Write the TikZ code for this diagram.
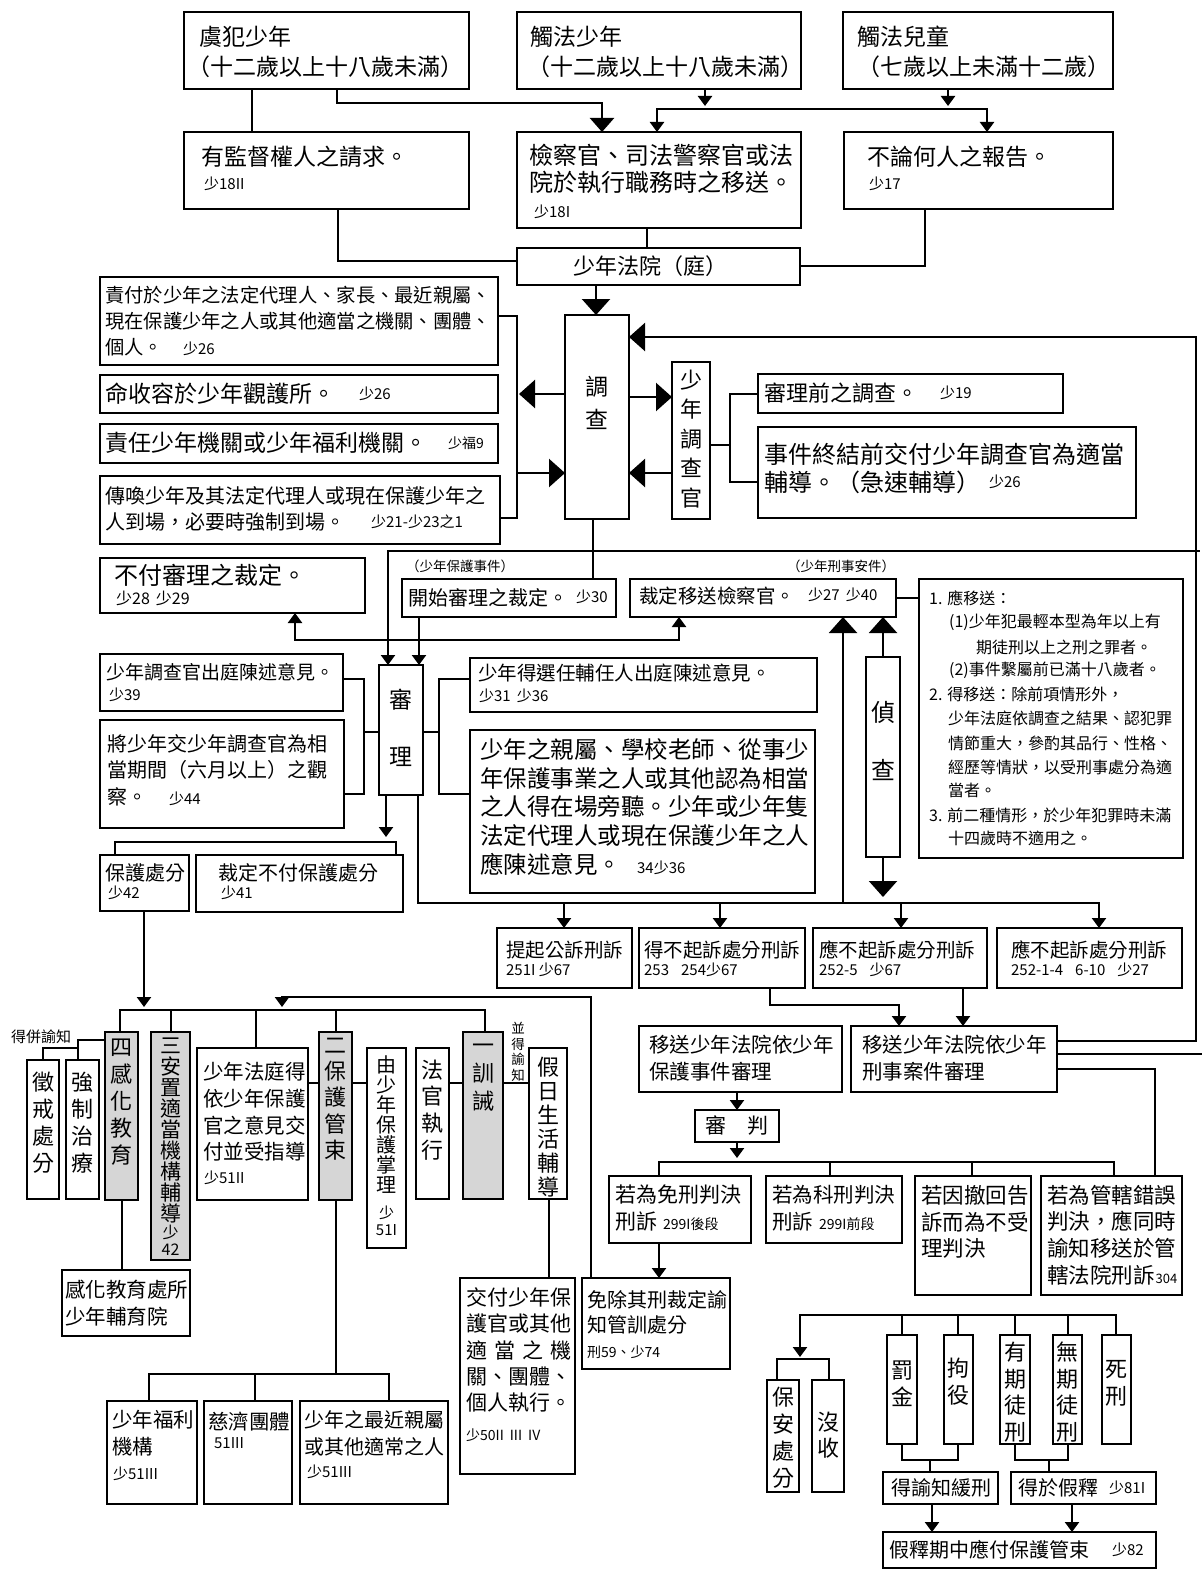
\documentclass[tikz,border=0pt]{standalone}
\usepackage{fontspec}
\setmainfont{Noto Sans CJK TC}
\usetikzlibrary{arrows.meta}
\newcounter{tn}
\newcommand\fz[2]{\fontsize{#1}{#2}\selectfont}
\newcommand\B[6][]{\node[box,#1,minimum width={#4-#2},minimum height={#5-#3}] (#6) at ({(#2+#4)/2},{(#3+#5)/2}) {};}
\newcommand\T[5][]{\stepcounter{tn}\node[txt,font=\fz{#2}{#2},#1] (t\arabic{tn}) at (#3,#4) {#5};}
\newcommand\M[6][]{\stepcounter{tn}\node[mtx,font=\fz{#2}{#3},#1] (t\arabic{tn}) at (#4,#5) {#6};}
\newcommand\V[6][]{\stepcounter{tn}\node[vtx,font=\fz{#2}{#3},#1] (t\arabic{tn}) at (#4,#5) {#6};}
\newcommand\sm[1]{{\fz{15}{15}#1}}
\begin{document}
\begin{tikzpicture}[x=1pt,y=-1pt,line width=2.3pt,line cap=rect,
  box/.style={draw,line width=2.5pt,inner sep=0pt,outer sep=0pt,fill=white},
  gbox/.style={box,fill=black!16},
  txt/.style={inner sep=0pt,anchor=west},
  mtx/.style={inner sep=0pt,anchor=west,align=left},
  vtx/.style={inner sep=0pt,align=center},
  aS/.style={-{Triangle[length=10pt,width=14pt]}},
  aSS/.style={{Triangle[length=10pt,width=14pt]}-{Triangle[length=10pt,width=14pt]}},
  aM/.style={-{Triangle[length=14pt,width=24pt]}},
  aB/.style={-{Triangle[length=16pt,width=28pt]}}]
\fill[white] (0,0) rectangle (1201,1570);
\useasboundingbox (0,0) rectangle (1201,1570);
% ---------- boxes
\B{184}{12}{469}{89}{yufan}
\B{517}{12}{801}{89}{chufa}
\B{843}{12}{1113}{89}{chuer}
\B{184}{132}{469}{209}{jiandu}
\B{517}{132}{801}{228}{jiancha}
\B{844}{132}{1113}{209}{bulun}
\B{517}{248}{800}{285}{fayuan}
\B{565}{315}{629}{519}{diaocha}
\B{100}{277}{498}{365}{zefu}
\B{100}{375}{498}{413}{shourong}
\B{100}{424}{498}{463}{zeren}
\B{100}{476}{500}{544}{chuanhuan}
\B{672}{362}{710}{519}{dcg}
\B{758}{374}{1063}{413}{qian}
\B{758}{427}{1136}{518}{shijian}
\B{100}{558}{365}{613}{bufu}
\B{402}{579}{616}{617}{kaishi}
\B{630}{579}{896}{617}{caiding}
\B{919}{579}{1183}{858}{note}
\B{100}{654}{343}{711}{dcgchu}
\B{100}{720}{344}{828}{jiang}
\B{379}{665}{423}{795}{shenli}
\B{470}{658}{817}{712}{xuanren}
\B{470}{730}{815}{893}{qinshu}
\B{866}{657}{900}{857}{zhencha}
\B{100}{855}{189}{911}{baohu}
\B{196}{855}{403}{912}{buyu}
\B{497}{928}{632}{988}{tiqi}
\B{639}{928}{805}{988}{debu}
\B{813}{928}{987}{988}{yingA}
\B{997}{928}{1182}{988}{yingB}
\B{639}{1026}{842}{1092}{ysbh}
\B{851}{1026}{1057}{1092}{ysxs}
\B{695}{1110}{779}{1142}{shenpan}
\B{609}{1176}{751}{1243}{mianxing}
\B{766}{1176}{902}{1243}{kexing}
\B{915}{1176}{1031}{1295}{chehui}
\B{1041}{1176}{1182}{1295}{guanxia}
\B{27}{1060}{59}{1199}{chengjie}
\B{66}{1060}{99}{1199}{qiangzhi}
\B[gbox]{105}{1032}{138}{1200}{ganhua}
\B[gbox]{151}{1032}{190}{1260}{anzhi}
\B{197}{1048}{308}{1200}{fating}
\B[gbox]{319}{1032}{352}{1200}{bhgs}
\B{367}{1048}{406}{1248}{youshao}
\B{416}{1048}{449}{1199}{faguan}
\B[gbox]{463}{1032}{503}{1199}{xunjie}
\B{529}{1048}{567}{1199}{jiari}
\B{62}{1270}{190}{1336}{ghcs}
\B{107}{1401}{197}{1504}{fuli}
\B{204}{1401}{292}{1504}{ciji}
\B{300}{1401}{448}{1504}{zuijin}
\B{460}{1278}{575}{1474}{jiaofu}
\B{582}{1278}{730}{1369}{mianchu}
\B{767}{1380}{799}{1492}{baoan}
\B{812}{1380}{844}{1492}{moshou}
\B{887}{1335}{917}{1444}{fajin}
\B{944}{1335}{973}{1444}{juyi}
\B{1000}{1335}{1030}{1444}{youqi}
\B{1053}{1335}{1082}{1444}{wuqi}
\B{1102}{1335}{1131}{1444}{sixing}
\B{883}{1472}{998}{1504}{huanxing}
\B{1011}{1472}{1156}{1504}{jiashi}
\B{883}{1532}{1156}{1568}{jsqz}
% ---------- connectors
\draw (yufan.south -| 252,0) -- (jiandu.north -| 252,0);
\draw[aM] (yufan.south -| 337,0) |- (602,103) -- (jiancha.north -| 602,0);
\draw[aS] (chufa.south -| 705,0) -- (705,106);
\draw[aS] (chuer.south -| 948,0) -- (948,106);
\draw[aS] (987,109) -- (657,109) -- (jiancha.north -| 657,0);
\draw[aS] (987,109) -- (bulun.north -| 987,0);
\draw (jiandu.south -| 338,0) |- (fayuan.west |- 0,261);
\draw (jiancha.south -| 647,0) -- (fayuan.north -| 647,0);
\draw (bulun.south -| 925,0) |- (fayuan.east |- 0,266);
\draw[aB] (fayuan.south -| 596,0) -- (diaocha.north -| 596,0);
\draw (zefu.east |- 0,316) -| (517,518) -- (chuanhuan.east |- 0,518);
\draw[aB] (diaocha.west |- 0,394) -- (519,394);
\draw[aB] (517,473) -- (diaocha.west |- 0,473);
\draw[aB] (diaocha.east |- 0,397) -- (dcg.west |- 0,397);
\draw[aB] (dcg.west |- 0,473) -- (diaocha.east |- 0,473);
\draw[aB] (ysxs.east |- 0,1041) -| (1196,337) -- (diaocha.east |- 0,337);
\draw (dcg.east |- 0,445) -- (730,445);
\draw (qian.west |- 0,394) -| (730,482) -- (shijian.west |- 0,482);
\draw (diaocha.south -| 593,0) -- (kaishi.north -| 593,0);
\draw[aS] (1199,551) -| (shenli.north -| 388,0);
\draw[aS] (kaishi.south -| 419,0) -- (shenli.north -| 419,0);
\draw[aSS] (bufu.south -| 295,0) -- (295,640) -- (679,640) -- (caiding.south -| 679,0);
\draw (dcgchu.east |- 0,679) -| (364,794) -- (jiang.east |- 0,794);
\draw (364,732) -- (shenli.west |- 0,732);
\draw (shenli.east |- 0,732) -- (439,732);
\draw (xuanren.west |- 0,679) -| (439,794) -- (qinshu.west |- 0,794);
\draw[aS] (shenli.south -| 386,0) -- (386,837);
\draw (baohu.north -| 115,0) |- (396,842) -- (buyu.north -| 396,0);
\draw (shenli.south -| 418,0) |- (1099,903);
\draw[aS] (564,903) -- (tiqi.north -| 564,0);
\draw[aS] (720,903) -- (debu.north -| 720,0);
\draw[aS] (901,903) -- (yingA.north -| 901,0);
\draw[aS] (1099,903) -- (yingB.north -| 1099,0);
\draw[aB] (843,903) -- (caiding.south -| 843,0);
\draw[aB] (zhencha.north -| 883,0) -- (caiding.south -| 883,0);
\draw[aB] (zhencha.south -| 883,0) -- (883,897);
\draw (caiding.east |- 0,598) -- (note.west |- 0,598);
\draw[aS] (debu.south -| 770,0) |- (899,1005) -- (ysxs.north -| 899,0);
\draw[aS] (yingA.south -| 963,0) -- (ysxs.north -| 963,0);
\draw (ysxs.east |- 0,1054) -- (1201,1054);
\draw (ysxs.east |- 0,1069) -| (guanxia.north -| 1155,0);
\draw[aS] (ysbh.south -| 737,0) -- (shenpan.north -| 737,0);
\draw[aS] (shenpan.south -| 737,0) -- (737,1158);
\draw (mianxing.north -| 659,0) -- (659,1162) -| (guanxia.north -| 1114,0);
\draw (kexing.north -| 830,0) -- (830,1162);
\draw (chehui.north -| 972,0) -- (972,1162);
\draw[aS] (mianxing.south -| 659,0) -- (mianchu.north -| 659,0);
\draw[aS] (mianchu.north -| 591,0) |- (282,997) -- (282,1007);
\draw[aS] (baohu.south -| 144,0) -- (144,1007);
\draw (ganhua.north -| 120,0) -- (120,1010) -| (xunjie.north -| 485,0);
\draw (anzhi.north -| 171,0) -- (171,1010);
\draw (fating.north -| 256,0) -- (256,1010);
\draw (bhgs.north -| 336,0) -- (336,1010);
\draw (ganhua.west |- 0,1040) -| (qiangzhi.north -| 78,0);
\draw (chengjie.north -| 43,0) |- (78,1048);
\draw (fating.east |- 0,1083) -- (bhgs.west |- 0,1083);
\draw (bhgs.east |- 0,1083) -- (youshao.west |- 0,1083);
\draw (faguan.east |- 0,1083) -- (xunjie.west |- 0,1083);
\draw (xunjie.east |- 0,1083) -- (jiari.west |- 0,1083);
\draw (ganhua.south -| 122,0) -- (ghcs.north -| 122,0);
\draw (bhgs.south -| 336,0) -- (336,1374);
\draw (fuli.north -| 149,0) -- (149,1374) -| (zuijin.north -| 389,0);
\draw (ciji.north -| 255,0) -- (255,1374);
\draw (jiari.south -| 549,0) -- (jiaofu.north -| 549,0);
\coordinate (fork) at (800,1315);
\draw (fork) -| (sixing.north -| 1116,0);
\draw[aS] (fork) -- (800,1357);
\draw (baoan.north -| 777,0) -- (777,1359) -| (moshou.north -| 829,0);
\draw (fajin.north -| 902,0) -- (902,1315);
\draw (juyi.north -| 958,0) -- (958,1315);
\draw (youqi.north -| 1015,0) -- (1015,1315);
\draw (wuqi.north -| 1068,0) -- (1068,1315);
\draw (fajin.south -| 902,0) -- (902,1460) -| (juyi.south -| 958,0);
\draw (930,1460) -- (huanxing.north -| 930,0);
\draw (youqi.south -| 1015,0) -- (1015,1460) -| (wuqi.south -| 1068,0);
\draw (1049,1460) -- (jiashi.north -| 1049,0);
\draw[aS] (huanxing.south -| 932,0) -- (jsqz.north -| 932,0);
\draw[aS] (jiashi.south -| 1072,0) -- (jsqz.north -| 1072,0);
% ---------- texts
\T{23}{198}{37}{虞犯少年}
\T{23}{186}{67}{（十二歲以上十八歲未滿）}
\T{23}{529}{37}{觸法少年}
\T{23}{526}{67}{（十二歲以上十八歲未滿）}
\T{23}{856}{37}{觸法兒童}
\T{23}{856}{67}{（七歲以上未滿十二歲）}
\T{23}{200}{157}{有監督權人之請求。}
\T{15}{203}{184}{少18II}
\M{24}{27.5}{528}{169}{檢察官、司法警察官或法\\院於執行職務時之移送。}
\T{15}{533}{212}{少18I}
\T{23}{866}{157}{不論何人之報告。}
\T{15}{868}{184}{少17}
\T[anchor=center]{22}{650}{266}{少年法院（庭）}
\M{19.3}{26}{104}{321}{責付於少年之法定代理人、家長、最近親屬、\\現在保護少年之人或其他適當之機關、團體、\\個人。\hspace{20pt}\sm{少26}}
\T{23}{104}{394}{命收容於少年觀護所。}
\T{15}{358}{394}{少26}
\T{23}{104}{443}{責任少年機關或少年福利機關。}
\T{14}{447}{443}{少福9}
\M{20}{26}{104}{509}{傳喚少年及其法定代理人或現在保護少年之\\人到場，必要時強制到場。}
\T{15}{370}{522}{少21-少23之1}
\V{23}{33}{597}{403}{調\\查}
\V{22}{29.5}{691}{439}{少\\年\\調\\查\\官}
\T{22}{763}{393}{審理前之調查。}
\T{15}{939}{393}{少19}
\M{24}{28}{763}{468}{事件終結前交付少年調查官為適當\\輔導。（急速輔導）}
\T{15}{988}{482}{少26}
\T{24}{113}{575}{不付審理之裁定。}
\T{16}{115}{598}{少28\hspace{6pt}少29}
\T{13.5}{405}{566}{（少年保護事件）}
\T{20}{407}{598}{開始審理之裁定。}
\T{15}{575}{597}{少30}
\T{13.5}{786}{566}{（少年刑事安件）}
\T{19.5}{638}{596}{裁定移送檢察官。}
\T{15}{807}{595}{少27\hspace{6pt}少40}
\T{16}{928}{598}{1. 應移送：}
\T{16}{948}{622}{(1)少年犯最輕本型為年以上有}
\T{16}{975}{647}{期徒刑以上之刑之罪者。}
\T{16}{948}{670}{(2)事件繫屬前已滿十八歲者。}
\T{16}{928}{694}{2. 得移送：除前項情形外，}
\T{16}{947}{718}{少年法庭依調查之結果、認犯罪}
\T{16}{947}{743}{情節重大，參酌其品行、性格、}
\T{16}{947}{767}{經歷等情狀，以受刑事處分為適}
\T{16}{947}{790}{當者。}
\T{16}{928}{815}{3. 前二種情形，於少年犯罪時未滿}
\T{16}{947}{838}{十四歲時不適用之。}
\T{19}{105}{672}{少年調查官出庭陳述意見。}
\T{15}{108}{695}{少39}
\M{20}{26.5}{106}{770}{將少年交少年調查官為相\\當期間（六月以上）之觀\\察。\hspace{22pt}\sm{少44}}
\V{23}{57}{401}{728}{審\\理}
\T{19.5}{477}{673}{少年得選任輔任人出庭陳述意見。}
\T{15}{478}{696}{少31\hspace{6pt}少36}
\M{23.5}{28.8}{479}{807}{少年之親屬、學校老師、從事少\\年保護事業之人或其他認為相當\\之人得在場旁聽。少年或少年隻\\法定代理人或現在保護少年之人\\應陳述意見。\hspace{16pt}\sm{34少36}}
\V{24}{58}{883}{741}{偵\\查}
\T{20}{104}{873}{保護處分}
\T{15}{107}{893}{少42}
\T{20}{217}{873}{裁定不付保護處分}
\T{15}{220}{893}{少41}
\T{19.5}{505}{950}{提起公訴刑訴}
\T{15}{505}{970}{251I 少67}
\T{19.5}{643}{950}{得不起訴處分刑訴}
\T{15}{643}{970}{253\hspace{12pt}254少67}
\T{19.5}{818}{950}{應不起訴處分刑訴}
\T{15}{818}{970}{252-5\hspace{12pt}少67}
\T{19.5}{1010}{950}{應不起訴處分刑訴}
\T{15}{1010}{970}{252-1-4\hspace{12pt}6-10\hspace{12pt}少27}
\M{20.5}{27}{648}{1058}{移送少年法院依少年\\保護事件審理}
\M{20.5}{27}{861}{1058}{移送少年法院依少年\\刑事案件審理}
\T[anchor=center]{21}{737}{1126}{審\hspace{1em}判}
\M{21}{27}{614}{1208}{若為免刑判決\\刑訴\hspace{6pt}{\fz{14}{14}299I後段}}
\M{20.5}{27}{771}{1208}{若為科刑判決\\刑訴\hspace{6pt}{\fz{14}{14}299I前段}}
\M{21.5}{26.5}{920}{1222}{若因撤回告\\訴而為不受\\理判決}
\M{21.5}{26.7}{1046}{1235}{若為管轄錯誤\\判決，應同時\\諭知移送於管\\轄法院刑訴\hspace{1pt}{\fz{13}{13}304}}
\M{20}{25}{586}{1325}{免除其刑裁定諭\\知管訓處分\\{\fz{14}{14}刑59、少74}}
\M{21}{26.3}{465}{1350}{交付少年保\\護官或其他\\\makebox[5em][s]{適\hfil 當\hfil 之\hfil 機}\\關、團體、\\個人執行。}
\T{14}{465}{1435}{少50II\hspace{6pt}III\hspace{6pt}IV}
\V{22}{27}{43}{1122.5}{徵\\戒\\處\\分}
\V{22}{27}{82}{1122.5}{強\\制\\治\\療}
\V{22}{27}{121.5}{1102}{四\\感\\化\\教\\育}
\V{21}{21}{170.5}{1130}{三\\安\\置\\適\\當\\機\\構\\輔\\導}
\V{16}{17}{170.5}{1240}{少\\42}
\M{20.5}{26.7}{202}{1112}{少年法庭得\\依少年保護\\官之意見交\\付並受指導}
\T{15}{203}{1178}{少51II}
\V{22}{26.25}{335.5}{1099}{二\\保\\護\\管\\束}
\V{20}{20}{386.5}{1125}{由\\少\\年\\保\\護\\掌\\理}
\V{15}{17}{386.5}{1221}{少\\51I}
\V{22}{26.7}{432.5}{1110}{法\\官\\執\\行}
\V{22}{28}{483}{1078}{一\\訓\\誡}
\V{22}{24}{548}{1127}{假\\日\\生\\活\\輔\\導}
\V{13.5}{15.5}{518}{1052}{並\\得\\諭\\知}
\T{15}{10}{1037}{得併諭知}
\M{20.5}{27}{64}{1303}{感化教育處所\\少年輔育院}
\M{20.5}{27}{111}{1433.5}{少年福利\\機構}
\T{15}{112}{1474}{少51III}
\T{20.5}{207}{1422}{慈濟團體}
\T{15}{213}{1443}{51III}
\M{20}{27}{303}{1433.5}{少年之最近親屬\\或其他適常之人}
\T{15}{306}{1472}{少51III}
\V{22}{27}{783}{1437.5}{保\\安\\處\\分}
\V{22}{26}{828}{1435}{沒\\收}
\V{22}{27}{902}{1383.5}{罰\\金}
\V{22}{27}{958.5}{1381.5}{拘\\役}
\V{22}{26.7}{1015}{1392}{有\\期\\徒\\刑}
\V{22}{26.7}{1067.5}{1392}{無\\期\\徒\\刑}
\V{22}{27}{1116.5}{1383.5}{死\\刑}
\T{20}{890}{1488}{得諭知緩刑}
\T{20}{1017}{1488}{得於假釋}
\T{15}{1108}{1488}{少81I}
\T{20}{888}{1550}{假釋期中應付保護管束}
\T{15}{1111}{1550}{少82}
\end{tikzpicture}
\end{document}
